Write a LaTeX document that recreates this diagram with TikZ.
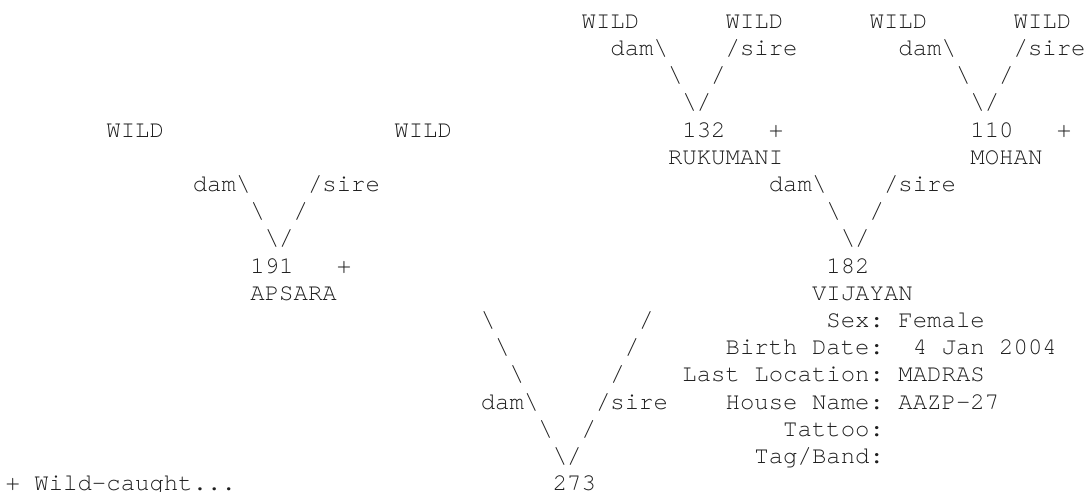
\documentclass[tikz,border=0pt]{standalone}
\usepackage{fontspec}
\newfontfamily\cursorfont{texgyrecursor-regular.otf}
\tikzset{
  txt/.style={font=\cursorfont\fontsize{18pt}{20.4pt}\selectfont, anchor=base west, inner sep=0pt, outer sep=0pt, text=black!88}
}
\newcommand\pc[4]{\node[txt] (#1) at ({#2*10.8pt+4.2pt},{-#3*20.4pt-21.2pt}) {#4};}
\newcommand\bs{\textbackslash}
\begin{document}
\begin{tikzpicture}
\fill[white] (0,0) rectangle (817.5pt,-369pt);
\useasboundingbox (0,0) rectangle (817.5pt,-369pt);
% row 0
\pc{wa}{40}{0}{WILD}
\pc{wb}{50}{0}{WILD}
\pc{wc}{60}{0}{WILD}
\pc{wd}{70}{0}{WILD}
% row 1
\pc{damA}{42}{1}{dam\bs}
\pc{sireA}{50}{1}{/sire}
\pc{damB}{62}{1}{dam\bs}
\pc{sireB}{70}{1}{/sire}
% row 2
\pc{lA2}{46}{2}{\bs}
\pc{rA2}{49}{2}{/}
\pc{lB2}{66}{2}{\bs}
\pc{rB2}{69}{2}{/}
% row 3
\pc{vA}{47}{3}{\bs/}
\pc{vB}{67}{3}{\bs/}
% row 4
\pc{we}{7}{4}{WILD}
\pc{wf}{27}{4}{WILD}
\pc{n132}{47}{4}{132}
\pc{p132}{53}{4}{+}
\pc{n110}{67}{4}{110}
\pc{p110}{73}{4}{+}
% row 5
\pc{rukumani}{46}{5}{RUKUMANI}
\pc{mohan}{67}{5}{MOHAN}
% row 6
\pc{damC}{13}{6}{dam\bs}
\pc{sireC}{21}{6}{/sire}
\pc{damD}{53}{6}{dam\bs}
\pc{sireD}{61}{6}{/sire}
% row 7
\pc{lC7}{17}{7}{\bs}
\pc{rC7}{20}{7}{/}
\pc{lD7}{57}{7}{\bs}
\pc{rD7}{60}{7}{/}
% row 8
\pc{vC}{18}{8}{\bs/}
\pc{vD}{58}{8}{\bs/}
% row 9
\pc{n191}{17}{9}{191}
\pc{p191}{23}{9}{+}
\pc{n182}{57}{9}{182}
% row 10
\pc{apsara}{17}{10}{APSARA}
\pc{vijayan}{56}{10}{VIJAYAN}
% row 11
\pc{l11}{33}{11}{\bs}
\pc{r11}{44}{11}{/}
\pc{sexl}{57}{11}{Sex:}
\pc{sexv}{62}{11}{Female}
% row 12
\pc{l12}{34}{12}{\bs}
\pc{r12}{43}{12}{/}
\pc{birthl}{50}{12}{Birth Date:}
\pc{birthv}{63}{12}{4 Jan 2004}
% row 13
\pc{l13}{35}{13}{\bs}
\pc{r13}{42}{13}{/}
\pc{locl}{47}{13}{Last Location:}
\pc{locv}{62}{13}{MADRAS}
% row 14
\pc{damE}{33}{14}{dam\bs}
\pc{sireE}{41}{14}{/sire}
\pc{housel}{50}{14}{House Name:}
\pc{housev}{62}{14}{AAZP-27}
% row 15
\pc{l15}{37}{15}{\bs}
\pc{r15}{40}{15}{/}
\pc{tattoo}{54}{15}{Tattoo:}
% row 16
\pc{vE}{38}{16}{\bs/}
\pc{tag}{52}{16}{Tag/Band:}
% row 17
\pc{wildnote}{0}{17}{+ Wild-caught...}
\pc{n273}{38}{17}{273}
\end{tikzpicture}
\end{document}
